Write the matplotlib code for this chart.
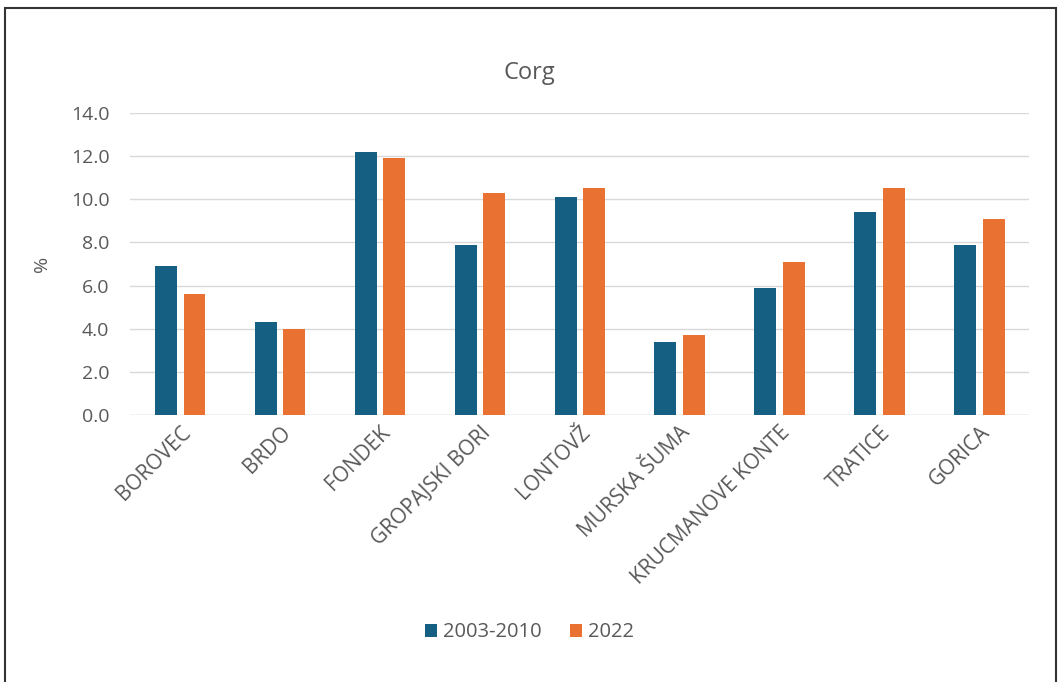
import matplotlib
matplotlib.use("Agg")
import matplotlib.pyplot as plt
import numpy as np
from matplotlib.patches import Rectangle

categories = ["BOROVEC", "BRDO", "FONDEK", "GROPAJSKI BORI", "LONTOVŽ",
              "MURSKA ŠUMA", "KRUCMANOVE KONTE", "TRATICE", "GORICA"]
series_2003_2010 = [6.9, 4.3, 12.2, 7.9, 10.1, 3.4, 5.9, 9.4, 7.9]
series_2022 = [5.6, 4.0, 11.9, 10.3, 10.5, 3.7, 7.1, 10.5, 9.1]
series_names = ["2003-2010", "2022"]
yticks = [0, 2, 4, 6, 8, 10, 12, 14]

plt.rcParams['font.family'] = ['Open Sans', 'DejaVu Sans']
TXT = "#595959"
BLUE = "#156082"
ORANGE = "#E97132"

fig = plt.figure(figsize=(10.59, 6.82), dpi=100)
ax = fig.add_axes([0.123, 0.3915, 0.849, 0.443])

x = np.arange(len(categories))
w = 0.22
ax.bar(x - 0.143, series_2003_2010, width=w, color=BLUE, label=series_names[0], zorder=3)
ax.bar(x + 0.143, series_2022, width=w, color=ORANGE, label=series_names[1], zorder=3)

ax.set_xlim(-0.5, len(categories) - 0.5)
ax.set_ylim(0, 14)
ax.set_yticks(yticks)
ax.set_yticklabels([f"{v:.1f}" for v in yticks], color=TXT, fontsize=14)
ax.set_xticks(x)
ax.set_xticklabels(categories, rotation=45, ha='right', rotation_mode='anchor',
                   color=TXT, fontsize=15)
ax.tick_params(axis='y', length=0, pad=15)
ax.tick_params(axis='x', length=0, pad=5)
ax.grid(axis='y', color='#d9d9d9', linewidth=1, zorder=0)
for s in ax.spines.values():
    s.set_visible(False)
ax.axhline(0, color='#d9d9d9', linewidth=1, zorder=2)

ax.set_ylabel("%", color=TXT, fontsize=14, labelpad=14)
fig.text(0.5, 0.893, "Corg", ha='center', va='center', fontsize=17, color=TXT)

leg = fig.legend(loc='center', bbox_to_anchor=(0.5, 0.073), ncol=2, frameon=False,
                 fontsize=14.5, handlelength=0.6, handleheight=0.6, handletextpad=0.3,
                 columnspacing=1.4, labelcolor=TXT)

# outer frame
fig.patches.append(Rectangle((5 / 1059, -0.05), (1056 - 5) / 1059, 1.05 - 8 / 682,
                             transform=fig.transFigure, fill=False,
                             edgecolor='#333333', linewidth=1.5))

fig.savefig("out.png", dpi=100)
